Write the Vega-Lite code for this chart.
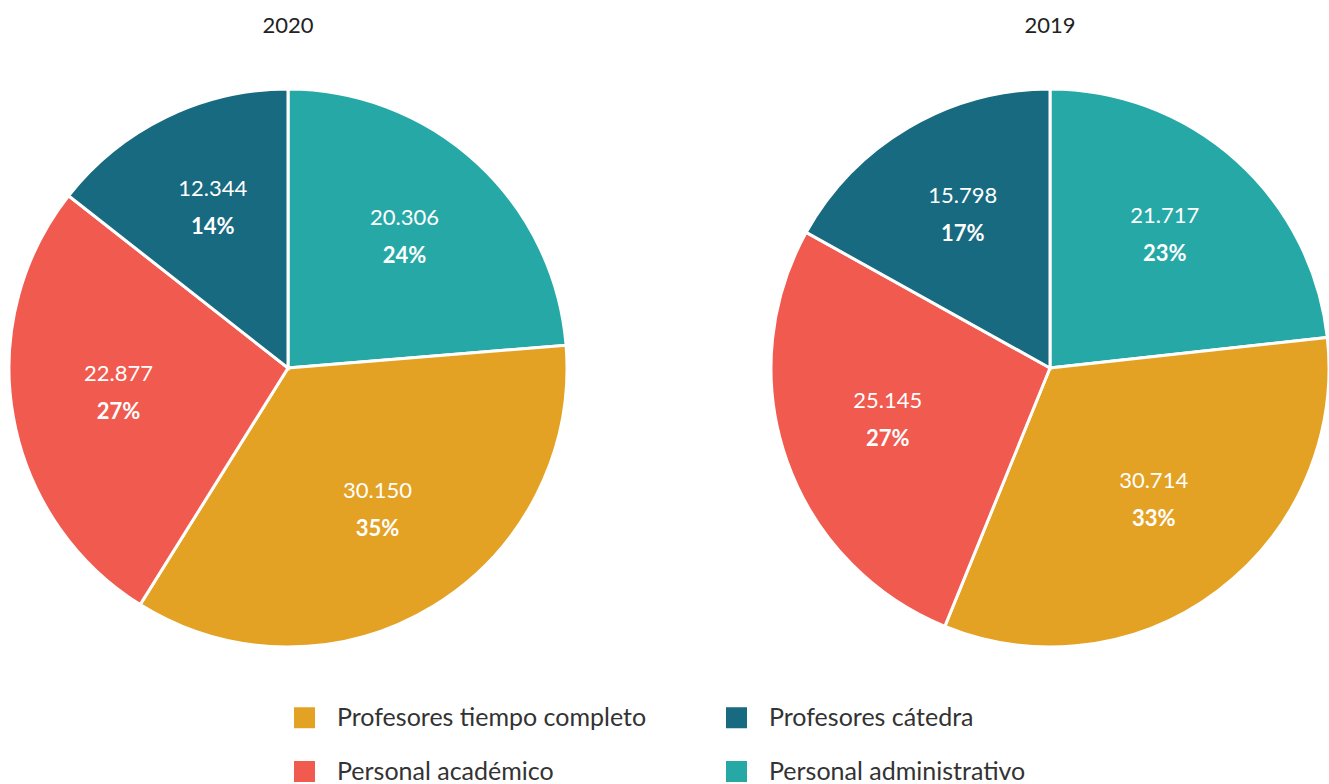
{
  "$schema": "https://vega.github.io/schema/vega-lite/v6.json",
  "padding": {"left": 3, "top": 14, "right": 0, "bottom": 0},
  "background": "white",
  "datasets": {
    "d": [
      {"year": "2020", "categoria": "Personal administrativo", "valor": 20306, "orden": 1, "num": "20.306", "pct": "24%"},
      {"year": "2020", "categoria": "Profesores tiempo completo", "valor": 30150, "orden": 2, "num": "30.150", "pct": "35%"},
      {"year": "2020", "categoria": "Personal académico", "valor": 22877, "orden": 3, "num": "22.877", "pct": "27%"},
      {"year": "2020", "categoria": "Profesores cátedra", "valor": 12344, "orden": 4, "num": "12.344", "pct": "14%"},
      {"year": "2019", "categoria": "Personal administrativo", "valor": 21717, "orden": 1, "num": "21.717", "pct": "23%"},
      {"year": "2019", "categoria": "Profesores tiempo completo", "valor": 30714, "orden": 2, "num": "30.714", "pct": "33%"},
      {"year": "2019", "categoria": "Personal académico", "valor": 25145, "orden": 3, "num": "25.145", "pct": "27%"},
      {"year": "2019", "categoria": "Profesores cátedra", "valor": 15798, "orden": 4, "num": "15.798", "pct": "17%"}
    ]
  },
  "spacing": 192,
  "hconcat": [
    {
      "title": {"text": "2020", "offset": 45.5},
      "width": 546,
      "height": 546,
      "data": {"name": "d"},
      "transform": [{"filter": "datum.year === '2020'"}],
      "encoding": {
        "theta": {"field": "valor", "type": "quantitative", "stack": true},
        "order": {"field": "orden", "type": "quantitative"}
      },
      "layer": [
        {
          "mark": {"type": "arc", "outerRadius": 279, "stroke": "white", "strokeWidth": 3},
          "encoding": {
            "color": {
              "field": "categoria", "type": "nominal",
              "scale": {
                "domain": ["Profesores tiempo completo", "Personal académico", "Profesores cátedra", "Personal administrativo"],
                "range": ["#E4A225", "#F05A4F", "#176A7F", "#26A9A6"]
              },
              "legend": {
                "orient": "none", "legendX": 277, "legendY": 610, "columns": 2, "title": null
              }
            }
          }
        },
        {
          "mark": {"type": "text", "radius": 172, "dy": -24, "color": "white", "fontSize": 22, "font": "Lato"},
          "encoding": {"text": {"field": "num"}}
        },
        {
          "mark": {"type": "text", "radius": 172, "dy": 14, "color": "white", "fontSize": 22, "font": "Lato", "fontWeight": "bold"},
          "encoding": {"text": {"field": "pct"}}
        }
      ]
    },
    {
      "title": {"text": "2019", "offset": 45.5},
      "width": 546,
      "height": 546,
      "data": {"name": "d"},
      "transform": [{"filter": "datum.year === '2019'"}],
      "encoding": {
        "theta": {"field": "valor", "type": "quantitative", "stack": true},
        "order": {"field": "orden", "type": "quantitative"}
      },
      "layer": [
        {
          "mark": {"type": "arc", "outerRadius": 279, "stroke": "white", "strokeWidth": 3},
          "encoding": {
            "color": {"field": "categoria", "type": "nominal"}
          }
        },
        {
          "mark": {"type": "text", "radius": 172, "dy": -24, "color": "white", "fontSize": 22, "font": "Lato"},
          "encoding": {"text": {"field": "num"}}
        },
        {
          "mark": {"type": "text", "radius": 172, "dy": 14, "color": "white", "fontSize": 22, "font": "Lato", "fontWeight": "bold"},
          "encoding": {"text": {"field": "pct"}}
        }
      ]
    }
  ],
  "resolve": {"scale": {"theta": "independent", "color": "shared"}},
  "config": {
    "view": {"stroke": null},
    "title": {"fontSize": 22, "font": "Lato", "fontWeight": "normal", "color": "#222222"},
    "legend": {
      "symbolType": "square",
      "symbolSize": 441,
      "symbolStrokeWidth": 0,
      "symbolOpacity": 1,
      "labelFontSize": 25,
      "labelFont": "Lato",
      "labelColor": "#333333",
      "labelOffset": 20,
      "columnPadding": 77,
      "rowPadding": 28,
      "labelLimit": 0
    }
  }
}
